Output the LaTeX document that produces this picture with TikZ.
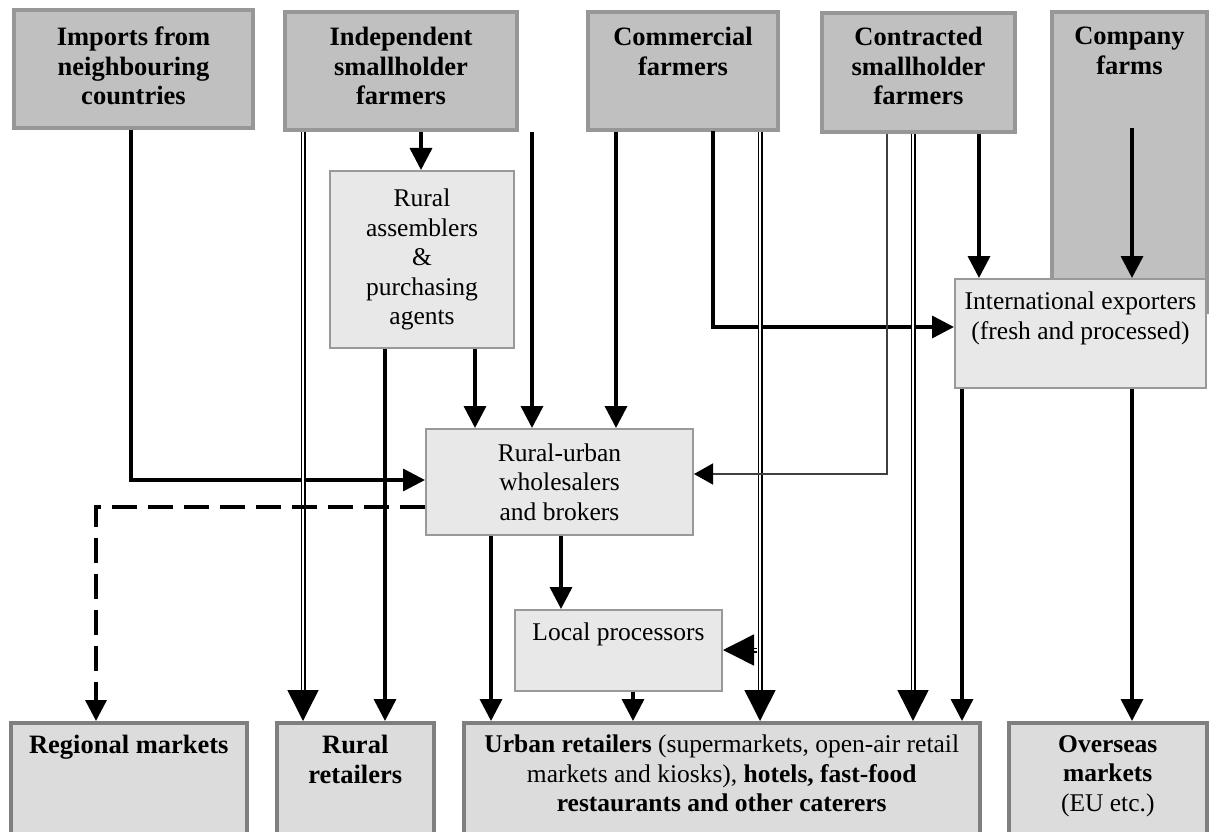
\documentclass[tikz,border=0pt]{standalone}
\usepackage{fontspec}
\setmainfont{Liberation Serif}
\usetikzlibrary{arrows.meta}

\definecolor{topfill}{HTML}{C0C0C0}
\definecolor{topline}{HTML}{979797}
\definecolor{midfill}{HTML}{E8E8E8}
\definecolor{midline}{HTML}{999999}
\definecolor{botfill}{HTML}{DCDCDC}
\definecolor{botline}{HTML}{7F7F7F}

\tikzset{
  box/.style={rectangle, inner sep=0pt, anchor=north west},
  source/.style={box, fill=topfill, draw=topline, line width=4pt},
  agent/.style={box, fill=midfill, draw=midline, line width=2pt},
  market/.style={box, fill=botfill, draw=botline, line width=3.5pt},
  txt/.style={align=center, inner sep=0pt, anchor=north,
    font=\fontsize{25.5}{29.5}\selectfont},
  btxt/.style={txt, font=\fontsize{26.5}{29.5}\selectfont\bfseries},
  arr/.style={line width=3.5pt, -{Triangle[length=22pt,width=22pt]}},
  thinarr/.style={line width=1.5pt, draw=black!75,
    -{Triangle[length=19pt,width=21pt,color=black]}},
  dblarr/.style={line width=1.5pt, double, double distance=2pt,
    -{Triangle[length=31pt,width=31pt]}},
  dasharr/.style={line width=3.5pt, dash pattern=on 25pt off 11pt,
    -{Triangle[length=21pt,width=21pt]}},
}

\begin{document}
\begin{tikzpicture}[x=1pt, y=-1pt]
\clip (0,0) rectangle (1210,832);
\useasboundingbox (0,0) rectangle (1210,832);

% producers
\node[source, minimum width=239pt, minimum height=118pt] (imp) at (12,8) {};
\node[source, minimum width=232pt, minimum height=118pt] (ind) at (283,10) {};
\node[source, minimum width=190pt, minimum height=118pt] (com) at (586,10) {};
\node[source, minimum width=193pt, minimum height=119pt] (con) at (820,11) {};
\node[source, minimum width=155pt, minimum height=300pt] (cmp) at (1050,10) {};

\node[btxt] (imp-t) at ([yshift=-19pt]imp.north) {Imports from\\neighbouring\\countries};
\node[btxt] (ind-t) at ([yshift=-17pt]ind.north) {Independent\\smallholder\\farmers};
\node[btxt] (com-t) at ([yshift=-17pt]com.north) {Commercial\\farmers};
\node[btxt] (con-t) at ([yshift=-16pt]con.north) {Contracted\\smallholder\\farmers};
\node[btxt] (cmp-t) at ([yshift=-17pt]cmp.north) {Company\\farms};

% intermediaries
\node[agent, minimum width=184pt, minimum height=177pt] (ra) at (329,170) {};
\node[txt, anchor=center] (ra-t) at (ra.center) {Rural\\assemblers\\\&\\purchasing\\agents};

\node[agent, minimum width=267pt, minimum height=106pt] (ru) at (425,428) {};
\node[txt, anchor=center] (ru-t) at (ru.center) {Rural-urban\\wholesalers\\and brokers};

\node[agent, minimum width=207pt, minimum height=81pt] (lp) at (514,609) {};
\node[txt] (lp-t) at ([yshift=-14pt]lp.north) {Local processors};

\node[agent, minimum width=251pt, minimum height=109pt] (ie) at (954,278) {};
\node[txt] (ie-t) at ([yshift=-14pt]ie.north) {International exporters\\(fresh and processed)};

% markets
\node[market, minimum width=236pt, minimum height=130pt] (reg) at (9,721) {};
\node[market, minimum width=157pt, minimum height=130pt] (rr) at (275,721) {};
\node[market, minimum width=516pt, minimum height=130pt] (ur) at (462,721) {};
\node[market, minimum width=198pt, minimum height=130pt] (ov) at (1007,721) {};

\node[btxt] (reg-t) at ([yshift=-14pt]reg.north) {Regional markets};
\node[btxt] (rr-t) at ([yshift=-14pt]rr.north) {Rural\\retailers};
\node[txt] (ur-t) at ([yshift=-14pt]ur.north) {\textbf{Urban retailers} (supermarkets, open-air retail\\markets and kiosks), \textbf{hotels, fast-food}\\\textbf{restaurants and other caterers}};
\node[txt] (ov-t) at ([yshift=-14pt]ov.north) {\textbf{Overseas}\\\textbf{markets}\\(EU etc.)};

% junction points
\coordinate (cmp-out) at (1132,128);
\coordinate (com-out) at (713,131);
\coordinate (lp-in) at (757,650);

% flows
\draw[arr] (131,0 |- imp.south) |- (ru.west |- 0,480);
\draw[dblarr] (303,0 |- ind.south) -- (303,0 |- rr.north);
\draw[arr] (421,0 |- ind.south) -- (421,0 |- ra.north);
\draw[arr] (532,0 |- ind.south) -- (532,0 |- ru.north);
\draw[arr] (385,0 |- ra.south) -- (385,0 |- rr.north);
\draw[arr] (475,0 |- ra.south) -- (475,0 |- ru.north);
\draw[arr] (616,0 |- com.south) -- (616,0 |- ru.north);
\draw[arr] (com-out) |- (ie.west |- 0,327);
\draw[dblarr] (760,0 |- com.south) -- (760,0 |- ur.north);
\draw[dblarr] (lp-in) -- (lp.east |- lp-in);
\draw[thinarr] (887,0 |- con.south) |- (ru.east |- 0,474);
\draw[dblarr] (913,0 |- con.south) -- (913,0 |- ur.north);
\draw[arr] (979,0 |- con.south) -- (979,0 |- ie.north);
\draw[arr] (cmp-out) -- (cmp-out |- ie.north);
\draw[arr] (962,0 |- ie.south) -- (962,0 |- ur.north);
\draw[arr] (1132,0 |- ie.south) -- (1132,0 |- ov.north);
\draw[arr] (491,0 |- ru.south) -- (491,0 |- ur.north);
\draw[arr] (561,0 |- ru.south) -- (561,0 |- lp.north);
\draw[arr] (633,0 |- lp.south) -- (633,0 |- ur.north);
\draw[dasharr] (ru.west |- 0,507) -| (96,0 |- reg.north);
\end{tikzpicture}
\end{document}
